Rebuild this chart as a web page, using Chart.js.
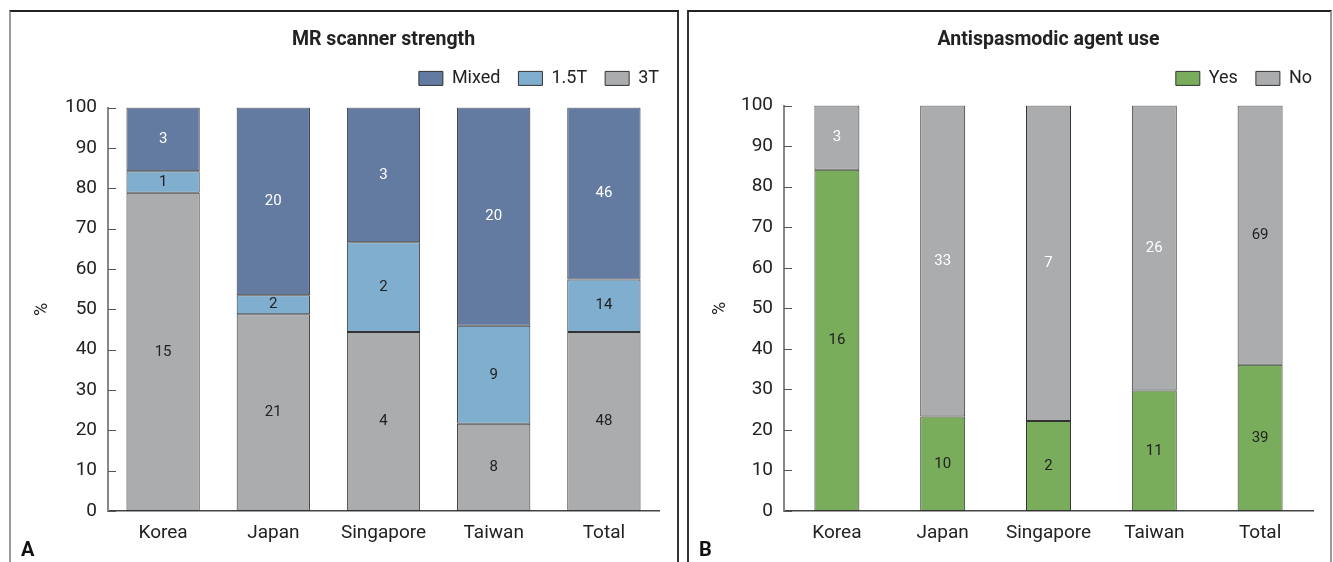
<!DOCTYPE html>
<html>
<head>
<meta charset="utf-8">
<script src="https://cdn.jsdelivr.net/npm/chart.js@4.4.0/dist/chart.umd.min.js"></script>
<style>
  body { margin: 0; background: #fff; width: 1333px; height: 562px; overflow: hidden; position: relative; }
  .panel { position: absolute; top: 10px; height: 560px; border-top: 2px solid #222; }
  #panelA { left: 9px; width: 666px; border-left: 2px solid #9a9a9a; border-right: 2px solid #333; }
  #panelB { left: 687px; width: 641px; border-left: 2px solid #333; border-right: 2px solid #9a9a9a; }
  canvas { display: block; }
</style>
</head>
<body>
<div class="panel" id="panelA"><canvas id="chartA" width="666" height="550"></canvas></div>
<div class="panel" id="panelB"><canvas id="chartB" width="641" height="550"></canvas></div>
<script>
const FONT = "Roboto, sans-serif";

const categories = ["Korea", "Japan", "Singapore", "Taiwan", "Total"];

// A: MR scanner strength, % of sites (counts printed on the bars)
const pct3T = [78.9, 48.8, 44.4, 21.6, 44.4];
const pct15T = [5.3, 4.7, 22.2, 24.3, 13.0];
const pctMixed = [15.8, 46.5, 33.4, 54.1, 42.6];
const n3T = [15, 21, 4, 8, 48];
const n15T = [1, 2, 2, 9, 14];
const nMixed = [3, 20, 3, 20, 46];

// B: antispasmodic agent use
const pctYes = [84.2, 23.3, 22.2, 29.7, 36.1];
const pctNo = [15.8, 76.7, 77.8, 70.3, 63.9];
const nYes = [16, 10, 2, 11, 39];
const nNo = [3, 33, 7, 26, 69];

Chart.defaults.font.family = FONT;
Chart.defaults.color = "#222";

// count labels in the middle of each segment
const segmentLabels = {
  id: "segmentLabels",
  afterDatasetsDraw(chart) {
    const ctx = chart.ctx;
    ctx.save();
    ctx.font = "15px " + FONT;
    ctx.textAlign = "center";
    ctx.textBaseline = "middle";
    chart.data.datasets.forEach((ds, i) => {
      chart.getDatasetMeta(i).data.forEach((bar, j) => {
        ctx.fillStyle = Array.isArray(ds.labelColor) ? ds.labelColor[j] : ds.labelColor;
        ctx.fillText(String(ds.counts[j]), bar.x, (bar.y + bar.base) / 2);
      });
    });
    ctx.restore();
  },
};

// y ticks point inward, and the panel letter
const axisExtras = {
  id: "axisExtras",
  afterDraw(chart, args, opts) {
    const ctx = chart.ctx;
    const y = chart.scales.y;
    const left = chart.chartArea.left;
    ctx.save();
    ctx.strokeStyle = "#555";
    ctx.lineWidth = 1;
    ctx.beginPath();
    y.ticks.forEach((t, i) => {
      const py = Math.round(y.getPixelForTick(i)) + 0.5;
      ctx.moveTo(left, py);
      ctx.lineTo(left + 8, py);
    });
    ctx.stroke();
    ctx.font = "bold 20px " + FONT;
    ctx.fillStyle = "#111";
    ctx.textAlign = "left";
    ctx.textBaseline = "alphabetic";
    ctx.fillText(opts.letter, opts.x, opts.y);
    ctx.restore();
  },
};

function makeChart(id, datasets, title, opts) {
  return new Chart(document.getElementById(id), {
    type: "bar",
    data: { labels: categories, datasets: datasets },
    plugins: [segmentLabels, axisExtras],
    options: {
      responsive: false,
      animation: false,
      barPercentage: opts.barPct,
      categoryPercentage: 1,
      layout: { padding: 0 },
      plugins: {
        tooltip: { enabled: false },
        title: {
          display: true,
          text: title,
          fullSize: false,
          font: { size: 19.5, weight: "bold" },
          color: "#222",
          padding: { top: 16, bottom: 0 },
        },
        legend: {
          position: "top",
          align: "end",
          fullSize: true,
          reverse: opts.reverse,
          labels: { boxWidth: 24, boxHeight: 14, padding: 18, font: { size: 18 }, color: "#222" },
        },
        // empty spacer between legend and plot
        subtitle: {
          display: true,
          text: "",
          weight: 500,
          fullSize: false,
          font: { size: 1 },
          padding: { top: 0, bottom: opts.spacer },
        },
        axisExtras: { letter: opts.letter, x: 10, y: 544 },
      },
      scales: {
        x: {
          stacked: true,
          grid: { display: false, drawTicks: false },
          border: { display: true, color: "#444", width: 1.5 },
          ticks: { font: { size: 19 }, color: "#222", padding: 11, maxRotation: 0 },
          afterFit: (s) => { s.height = 51; },
        },
        y: {
          stacked: true,
          min: 0,
          max: 100,
          grid: { display: false, drawTicks: false },
          border: { display: true, color: "#888", width: 2 },
          ticks: { stepSize: 10, font: { size: 19 }, color: "#222", padding: 11 },
          title: { display: true, text: "%", font: { size: 18 }, color: "#222", padding: { top: 21, bottom: 0 } },
          afterFit: (s) => { s.width = opts.left; },
        },
        yRight: {
          position: "right",
          display: true,
          grid: { display: false, drawTicks: false },
          border: { display: false },
          ticks: { display: false },
          afterFit: (s) => { s.width = opts.right; },
        },
      },
    },
  });
}

const edge = "#333";

makeChart("chartA", [
  { label: "3T", data: pct3T, counts: n3T, labelColor: "#222",
    backgroundColor: "#abacae", borderColor: edge, borderWidth: 1, borderSkipped: false, yAxisID: "y" },
  { label: "1.5T", data: pct15T, counts: n15T, labelColor: "#222",
    backgroundColor: "#80aecf", borderColor: edge, borderWidth: 1, borderSkipped: false, yAxisID: "y" },
  { label: "Mixed", data: pctMixed, counts: nMixed, labelColor: "#fff",
    backgroundColor: "#647ba1", borderColor: edge, borderWidth: 1, borderSkipped: false, yAxisID: "y" },
], "MR scanner strength", { barPct: 0.665, reverse: true, letter: "A", left: 97, right: 18, spacer: 9 });

makeChart("chartB", [
  { label: "Yes", data: pctYes, counts: nYes, labelColor: "#222",
    backgroundColor: "#79ac5b", borderColor: edge, borderWidth: 1, borderSkipped: false, yAxisID: "y" },
  { label: "No", data: pctNo, counts: nNo, labelColor: ["#fff", "#fff", "#fff", "#fff", "#222"],
    backgroundColor: "#abacae", borderColor: edge, borderWidth: 1, borderSkipped: false, yAxisID: "y" },
], "Antispasmodic agent use", { barPct: 0.425, reverse: false, letter: "B", left: 95, right: 17, spacer: 7 });
</script>
</body>
</html>
